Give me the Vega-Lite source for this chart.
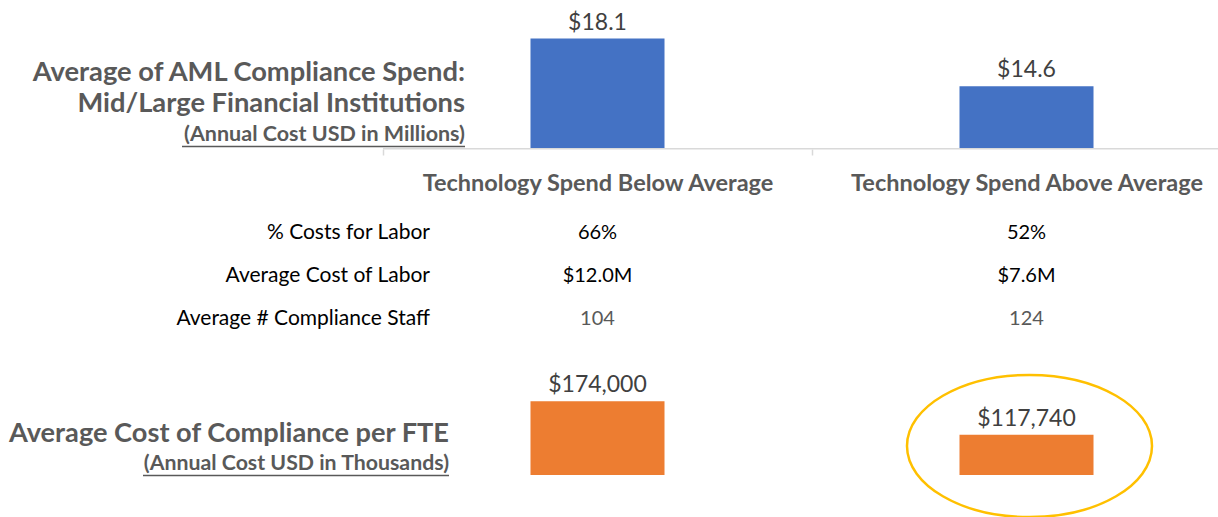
{
  "$schema": "https://vega.github.io/schema/vega-lite/v6.json",
  "width": 1218,
  "height": 517,
  "autosize": {"type": "none"},
  "padding": 0,
  "background": "white",
  "config": {"view": {"stroke": null}, "font": "Lato", "text": {"font": "Lato"}},
  "datasets": {
    "spend": [
      {"category": "Technology Spend Below Average", "spend_musd": 18.1, "spend_label": "$18.1", "cost_per_fte": 174000, "fte_label": "$174,000"},
      {"category": "Technology Spend Above Average", "spend_musd": 14.6, "spend_label": "$14.6", "cost_per_fte": 117740, "fte_label": "$117,740"}
    ],
    "table": [
      {"metric": "% Costs for Labor", "category": "Technology Spend Below Average", "value": "66%"},
      {"metric": "% Costs for Labor", "category": "Technology Spend Above Average", "value": "52%"},
      {"metric": "Average Cost of Labor", "category": "Technology Spend Below Average", "value": "$12.0M"},
      {"metric": "Average Cost of Labor", "category": "Technology Spend Above Average", "value": "$7.6M"},
      {"metric": "Average # Compliance Staff", "category": "Technology Spend Below Average", "value": "104"},
      {"metric": "Average # Compliance Staff", "category": "Technology Spend Above Average", "value": "124"}
    ],
    "headings": [
      {"section": "spend", "role": "title", "line": "Average of AML Compliance Spend:"},
      {"section": "spend", "role": "title", "line": "Mid/Large Financial Institutions"},
      {"section": "spend", "role": "note", "line": "(Annual Cost USD in Millions)"},
      {"section": "fte", "role": "title", "line": "Average Cost of Compliance per FTE"},
      {"section": "fte", "role": "note", "line": "(Annual Cost USD in Thousands)"}
    ]
  },
  "resolve": {"scale": {"y": "independent"}},
  "layer": [
    {
      "data": {"name": "spend"},
      "layer": [
        {
          "mark": {"type": "bar", "width": {"band": 0.3124}, "color": "#4472c4"},
          "encoding": {
            "x": {
              "field": "category", "type": "nominal",
              "scale": {"domain": ["label", "Technology Spend Below Average", "Technology Spend Above Average"], "range": [-46, 1241], "paddingInner": 0, "paddingOuter": 0},
              "axis": {
                "orient": "bottom", "offset": -368, "title": null,
                "values": ["Technology Spend Below Average", "Technology Spend Above Average"],
                "domain": false, "tickBand": "extent", "tickColor": "#d9d9d9", "tickSize": 6, "tickWidth": 1.5,
                "labelFont": "Lato", "labelFontWeight": "bold", "labelFontSize": 23.5, "labelColor": "#595959",
                "labelPadding": 16, "labelLimit": 0, "labelAngle": 0
              }
            },
            "y": {"field": "spend_musd", "type": "quantitative", "scale": {"domain": [10, 20], "range": [148.7, 12.7], "zero": false, "nice": false}, "axis": null},
            "y2": {"datum": 10}
          }
        },
        {
          "mark": {"type": "text", "fontSize": 23, "color": "#404040", "baseline": "alphabetic", "dy": -9},
          "encoding": {
            "x": {"field": "category", "type": "nominal", "scale": {"domain": ["label", "Technology Spend Below Average", "Technology Spend Above Average"], "range": [-46, 1241], "paddingInner": 0, "paddingOuter": 0}},
            "y": {"field": "spend_musd", "type": "quantitative"},
            "text": {"field": "spend_label"}
          }
        },
        {
          "data": {"values": [{}]},
          "mark": {"type": "rule", "color": "#d9d9d9", "strokeWidth": 1.5},
          "encoding": {
            "x": {"datum": "Technology Spend Below Average", "type": "nominal", "bandPosition": 0, "scale": {"domain": ["label", "Technology Spend Below Average", "Technology Spend Above Average"], "range": [-46, 1241], "paddingInner": 0, "paddingOuter": 0}},
            "x2": {"datum": "Technology Spend Above Average", "bandPosition": 1},
            "y": {"datum": 10, "type": "quantitative"}
          }
        }
      ]
    },
    {
      "data": {"name": "headings"},
      "transform": [{"filter": "datum.section === 'spend'"}],
      "encoding": {
        "x": {"datum": "label", "type": "nominal", "bandPosition": 1, "scale": {"domain": ["label", "Technology Spend Below Average", "Technology Spend Above Average"], "range": [-46, 1241], "paddingInner": 0, "paddingOuter": 0}},
        "y": {"field": "line", "type": "nominal", "scale": {"type": "point", "domain": ["Average of AML Compliance Spend:", "Mid/Large Financial Institutions", "(Annual Cost USD in Millions)"], "range": [73, 135], "padding": 0}, "axis": null}
      },
      "layer": [
        {
          "transform": [{"filter": "datum.role === 'title'"}],
          "mark": {"type": "text", "fontSize": 27.3, "fontWeight": "bold", "color": "#595959", "align": "right", "baseline": "middle", "dx": 82},
          "encoding": {"text": {"field": "line"}}
        },
        {
          "transform": [{"filter": "datum.role === 'note'"}],
          "mark": {"type": "text", "fontSize": 21.5, "fontWeight": "bold", "color": "#595959", "align": "right", "baseline": "middle", "dx": 82},
          "encoding": {"text": {"field": "line"}}
        },
        {
          "transform": [{"filter": "datum.role === 'note'"}],
          "mark": {"type": "rule", "color": "#595959", "strokeWidth": 1.5, "xOffset": -201, "x2Offset": 82, "yOffset": 11.5},
          "encoding": {"x2": {"datum": "label", "bandPosition": 1}}
        }
      ]
    },
    {
      "data": {"name": "table"},
      "encoding": {
        "y": {"field": "metric", "type": "nominal", "scale": {"type": "point", "domain": ["% Costs for Labor", "Average Cost of Labor", "Average # Compliance Staff"], "range": [233, 319], "padding": 0}, "axis": null}
      },
      "layer": [
        {
          "mark": {"type": "text", "fontSize": 20, "baseline": "middle", "align": "center"},
          "encoding": {
            "x": {"field": "category", "type": "nominal", "scale": {"domain": ["label", "Technology Spend Below Average", "Technology Spend Above Average"], "range": [-46, 1241], "paddingInner": 0, "paddingOuter": 0}},
            "text": {"field": "value"},
            "color": {"condition": {"test": "datum.metric === 'Average # Compliance Staff'", "value": "#595959"}, "value": "#000000"}
          }
        },
        {
          "transform": [{"filter": "datum.category === 'Technology Spend Below Average'"}],
          "mark": {"type": "text", "fontSize": 21, "baseline": "middle", "align": "right", "color": "#000000", "dx": 47},
          "encoding": {
            "x": {"datum": "label", "type": "nominal", "bandPosition": 1, "scale": {"domain": ["label", "Technology Spend Below Average", "Technology Spend Above Average"], "range": [-46, 1241], "paddingInner": 0, "paddingOuter": 0}},
            "text": {"field": "metric"}
          }
        }
      ]
    },
    {
      "data": {"name": "spend"},
      "encoding": {
        "x": {"field": "category", "type": "nominal", "scale": {"domain": ["label", "Technology Spend Below Average", "Technology Spend Above Average"], "range": [-46, 1241], "paddingInner": 0, "paddingOuter": 0}}
      },
      "layer": [
        {
          "mark": {"type": "bar", "width": {"band": 0.3124}, "color": "#ed7d31"},
          "encoding": {
            "y": {"field": "cost_per_fte", "type": "quantitative", "scale": {"domain": [50000, 200000], "range": [475, 385.7], "zero": false, "nice": false}, "axis": null},
            "y2": {"datum": 50000}
          }
        },
        {
          "mark": {"type": "text", "fontSize": 23, "color": "#404040", "baseline": "alphabetic", "dy": -9},
          "encoding": {
            "y": {"field": "cost_per_fte", "type": "quantitative"},
            "text": {"field": "fte_label"}
          }
        },
        {
          "transform": [{"filter": "datum.category === 'Technology Spend Above Average'"}],
          "mark": {
            "type": "point", "filled": false, "stroke": "#ffc000", "strokeWidth": 2.5, "opacity": 1, "xOffset": 3,
            "size": 60025,
            "shape": "M 1 0 C 1 0.3203 0.5523 0.58 0 0.58 C -0.5523 0.58 -1 0.3203 -1 0 C -1 -0.3203 -0.5523 -0.58 0 -0.58 C 0.5523 -0.58 1 -0.3203 1 0 Z"
          },
          "encoding": {
            "y": {"datum": 98700, "type": "quantitative"}
          }
        }
      ]
    },
    {
      "data": {"name": "headings"},
      "transform": [{"filter": "datum.section === 'fte'"}],
      "encoding": {
        "x": {"datum": "label", "type": "nominal", "bandPosition": 1, "scale": {"domain": ["label", "Technology Spend Below Average", "Technology Spend Above Average"], "range": [-46, 1241], "paddingInner": 0, "paddingOuter": 0}},
        "y": {"field": "line", "type": "nominal", "scale": {"type": "point", "domain": ["Average Cost of Compliance per FTE", "(Annual Cost USD in Thousands)"], "range": [434, 464], "padding": 0}, "axis": null}
      },
      "layer": [
        {
          "transform": [{"filter": "datum.role === 'title'"}],
          "mark": {"type": "text", "fontSize": 27.2, "fontWeight": "bold", "color": "#595959", "align": "right", "baseline": "middle", "dx": 66},
          "encoding": {"text": {"field": "line"}}
        },
        {
          "transform": [{"filter": "datum.role === 'note'"}],
          "mark": {"type": "text", "fontSize": 21.3, "fontWeight": "bold", "color": "#595959", "align": "right", "baseline": "middle", "dx": 66},
          "encoding": {"text": {"field": "line"}}
        },
        {
          "transform": [{"filter": "datum.role === 'note'"}],
          "mark": {"type": "rule", "color": "#595959", "strokeWidth": 1.5, "xOffset": -240, "x2Offset": 66, "yOffset": 11.5},
          "encoding": {"x2": {"datum": "label", "bandPosition": 1}}
        }
      ]
    }
  ]
}
